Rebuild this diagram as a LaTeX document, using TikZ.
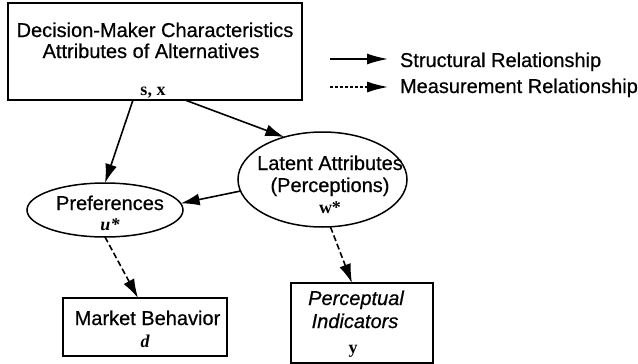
\documentclass[tikz,border=0pt]{standalone}
\usepackage{fontspec}
\setmainfont[FakeBold=0.6]{Liberation Sans}
\newfontfamily\serifm{Liberation Serif}
\usetikzlibrary{shapes.geometric,arrows.meta}
\begin{document}
\begin{tikzpicture}[x=1pt,y=-1pt,
  every node/.style={inner sep=0pt, outer sep=0pt},
  txt/.style={font=\fontsize{20}{22}\selectfont, anchor=base},
  mth/.style={font=\fontsize{18}{20}\selectfont\serifm\bfseries, anchor=base},
  boxs/.style={draw, line width=1.5pt, rectangle},
  ell/.style={draw, line width=1.5pt, ellipse},
  sarrow/.style={line width=1.6pt, -{Latex[length=19pt,width=12pt]}},
  darrow/.style={line width=1.6pt, dash pattern=on 6pt off 3pt, -{Latex[length=19pt,width=12pt]}},
  ldarrow/.style={line width=1.4pt, dash pattern=on 2.5pt off 2.5pt, -{Latex[length=21pt,width=11pt]}},
  lsarrow/.style={line width=1.6pt, -{Latex[length=21pt,width=11pt]}}]
\useasboundingbox (0,0) rectangle (638,364);
% top box
\node[boxs, minimum width=294pt, minimum height=97pt] (top) at (155,51.5) {};
\node[txt] (t1) at (155,37) {Decision-Maker Characteristics};
\node[txt] (t2) at (151,58) {Attributes of Alternatives};
\node[mth] (t3) at (153,95) {s, x};
% legend
\coordinate (ls1) at (330,59);
\coordinate (ls2) at (388,59);
\coordinate (ld1) at (330,87);
\coordinate (ld2) at (388,87);
\draw[lsarrow] (ls1) -- (ls2);
\draw[ldarrow] (ld1) -- (ld2);
\node[txt, anchor=base west] (lt1) at (400,67) {Structural Relationship};
\node[txt, anchor=base west] (lt2) at (400,93) {Measurement Relationship};
% preferences
\node[ell, minimum width=156pt, minimum height=54pt] (pref) at (105,210) {};
\node[txt] (p1) at (110,210) {Preferences};
\node[mth, font=\fontsize{18}{20}\selectfont\serifm\bfseries\itshape] (p2) at (110,230) {u*};
% latent
\node[ell, minimum width=169pt, minimum height=95pt] (lat) at (322.5,179.5) {};
\node[txt] (l1) at (330,170) {Latent Attributes};
\node[txt] (l2) at (330,192) {(Perceptions)};
\node[mth] (l3) at (330,213) {w*};
% market behavior
\node[boxs, minimum width=164pt, minimum height=58pt] (mkt) at (145,327) {};
\node[txt] (m1) at (147.5,325) {Market Behavior};
\node[mth, font=\fontsize{18}{20}\selectfont\serifm\bfseries\itshape] (m2) at (145,347) {d};
% perceptual indicators
\node[boxs, minimum width=142pt, minimum height=80pt] (perc) at (362,323) {};
\node[txt, font=\fontsize{20}{22}\selectfont\itshape] (c1) at (356,305) {Perceptual};
\node[txt, font=\fontsize{20}{22}\selectfont\itshape] (c2) at (355,328) {Indicators};
\node[mth] (c3) at (353,353) {y};
% connectors
\draw[sarrow] ([xshift=-22pt]top.south) -- (pref.north);
\draw[sarrow] ([xshift=30pt]top.south) -- (lat.132);
\draw[sarrow] (lat.188) -- (pref.5);
\draw[darrow] (pref.south) -- ([xshift=-7pt]mkt.north);
\draw[darrow] ([xshift=8pt]lat.south) -- ([xshift=-10pt]perc.north);
\end{tikzpicture}
\end{document}
